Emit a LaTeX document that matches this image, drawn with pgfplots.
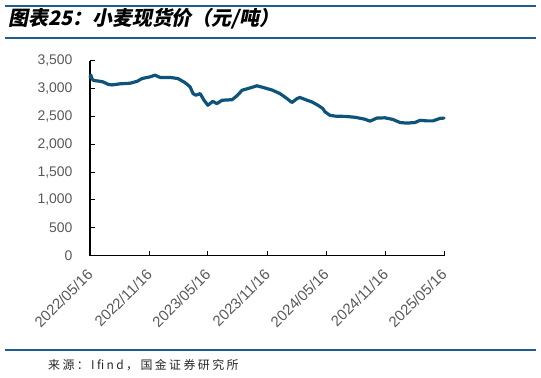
\documentclass[border=0pt]{standalone}
\usepackage{fontspec}
\setmainfont{Liberation Sans}
\newfontfamily\cjk[LetterSpace=20]{Noto Sans CJK SC}
\newfontfamily\cjkti[FakeSlant=0.2]{Noto Sans CJK SC}
\usepackage{pgfplots}
\pgfplotsset{compat=1.18}
\definecolor{linec}{RGB}{14,84,122}
\definecolor{barc}{RGB}{30,94,140}
\definecolor{tickc}{RGB}{89,89,89}
\pgfplotstableread{
d v
0 3200
3 3240
6 3180
10 3150
17 3140
26 3135
40 3120
56 3077
68 3065
93 3085
124 3095
146 3130
161 3180
186 3210
201 3240
217 3200
248 3200
272 3180
294 3107
310 3030
319 2910
328 2880
341 2910
353 2790
365 2700
380 2770
393 2730
409 2790
440 2800
455 2870
471 2970
495 3010
517 3050
542 3010
563 2975
588 2910
610 2820
625 2750
641 2820
650 2840
672 2790
687 2760
706 2700
721 2640
728 2580
743 2520
759 2505
790 2500
820 2485
851 2450
867 2415
888 2470
913 2475
938 2445
960 2390
981 2380
1006 2390
1022 2430
1043 2420
1062 2420
1084 2465
1096 2470
}\wheat
\begin{document}
\begin{tikzpicture}
\useasboundingbox (0bp,0bp) rectangle (541bp,378bp);
\draw[barc, line width=2bp] (5bp,372bp) -- (536bp,372bp);
\draw[barc, line width=2bp] (5bp,340bp) -- (536bp,340bp);
\draw[barc, line width=1.5bp] (5bp,28bp) -- (536bp,28bp);
\node[anchor=west, inner sep=0] at (8bp,359bp) {\cjkti\bfseries\fontsize{20}{24}\selectfont 图表25：小麦现货价（元/吨）};
\node[anchor=west, inner sep=0, text=black!85] at (48bp,13bp) {\cjk\fontsize{12}{14}\selectfont 来源：Ifind，国金证券研究所};
\begin{axis}[
  at={(90bp,122.3bp)}, anchor=south west,
  scale only axis, width=354bp, height=195bp,
  xmin=0, xmax=1096, ymin=0, ymax=3500,
  axis x line*=bottom, axis y line*=left,
  axis line style={black, line width=1.2bp, -},
  xtick={0,184,365,549,731,915,1096},
  xticklabels={2022/05/16,2022/11/16,2023/05/16,2023/11/16,2024/05/16,2024/11/16,2025/05/16},
  ytick={0,500,...,3500},
  tick style={black, line width=1bp}, major tick length=5bp, tick align=inside,
  ticklabel style={font=\fontsize{14}{16}\selectfont, text=tickc},
  /pgf/number format/assume math mode=true, /pgf/number format/1000 sep={,},
  yticklabel style={xshift=-14bp},
  xticklabel style={font=\fontsize{15}{17}\selectfont, xshift=-4bp, yshift=-12bp, rotate=45, anchor=north east, inner sep=0pt},
  clip=false,
]
\addplot[linec, line width=3.2bp, line join=round, line cap=round] table[x=d, y=v] {\wheat};
\end{axis}
\end{tikzpicture}
\end{document}
